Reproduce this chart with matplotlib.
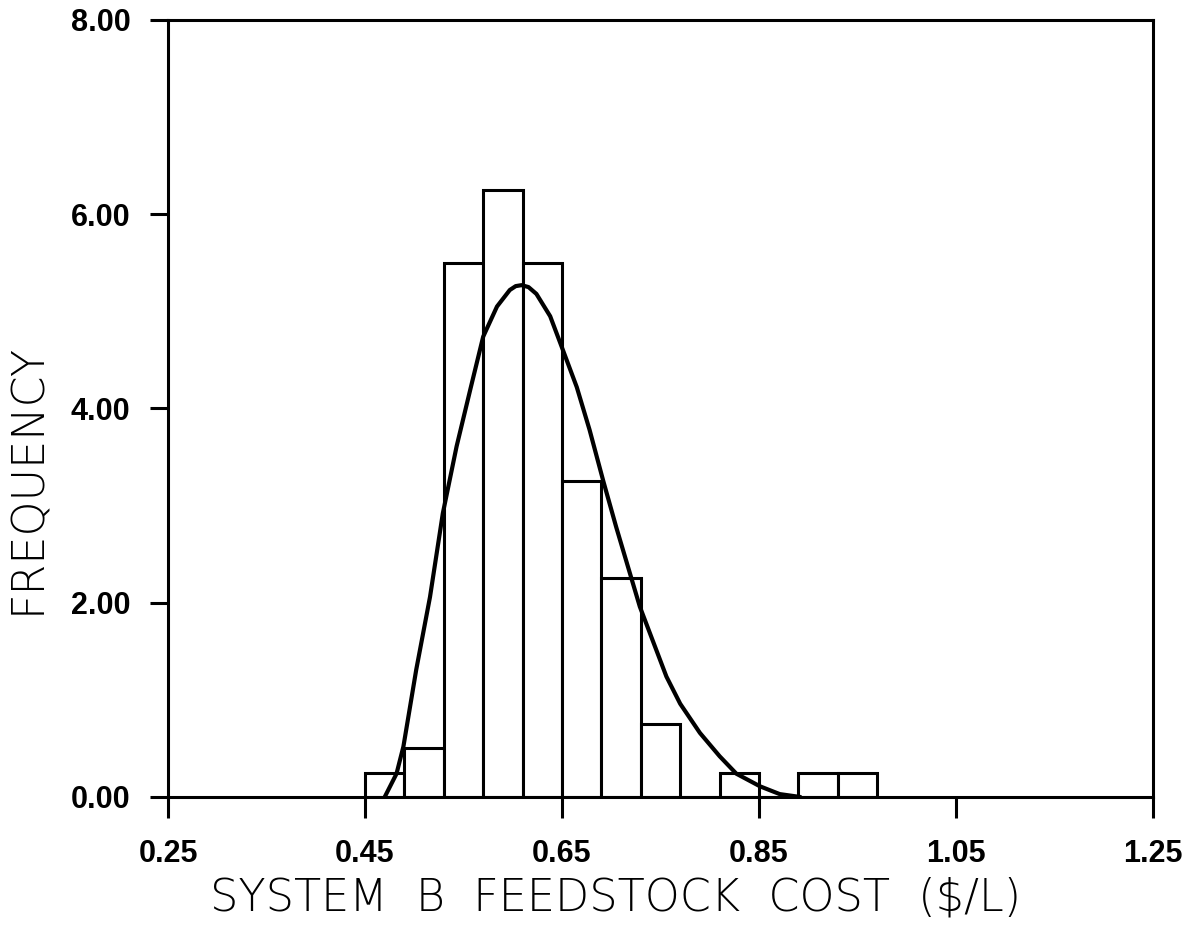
import matplotlib
matplotlib.use("Agg")
import matplotlib.pyplot as plt

# histogram bins (left edges, width 0.04) and heights
bin_left = [0.45, 0.49, 0.53, 0.57, 0.61, 0.65, 0.69, 0.73, 0.77, 0.81, 0.85, 0.89, 0.93]
bin_height = [0.25, 0.50, 5.50, 6.25, 5.50, 3.25, 2.25, 0.75, 0.0, 0.25, 0.0, 0.25, 0.25]
bin_width = 0.04

# fitted curve, points
curve_x = [0.470, 0.482, 0.489, 0.502, 0.516, 0.529, 0.543, 0.557, 0.570, 0.584,
           0.597, 0.603, 0.609, 0.616, 0.624, 0.638, 0.651, 0.665, 0.678, 0.692,
           0.705, 0.729, 0.756, 0.770, 0.790, 0.810, 0.827, 0.851, 0.871, 0.892]
curve_y = [0.00, 0.24, 0.52, 1.31, 2.06, 2.92, 3.61, 4.20, 4.74, 5.05,
           5.22, 5.26, 5.27, 5.25, 5.18, 4.95, 4.60, 4.22, 3.78, 3.25,
           2.78, 1.96, 1.24, 0.96, 0.66, 0.42, 0.24, 0.11, 0.03, 0.00]

x_ticks = [0.25, 0.45, 0.65, 0.85, 1.05, 1.25]
y_ticks = [0, 2, 4, 6, 8]

fig = plt.figure(figsize=(12.04, 9.27), dpi=100)
ax = fig.add_axes([168 / 1204, 1 - 797 / 927, (1153 - 168) / 1204, (797 - 20) / 927])

ax.bar(bin_left, bin_height, width=bin_width, align="edge", color="white",
       edgecolor="black", linewidth=2.2, zorder=2)
ax.plot(curve_x, curve_y, color="black", linewidth=3, zorder=3,
        solid_capstyle="round", solid_joinstyle="round")

ax.set_xlim(0.25, 1.25)
ax.set_ylim(0, 8)
ax.set_xticks(x_ticks)
ax.set_xticklabels(["%.2f" % v for v in x_ticks])
ax.set_yticks(y_ticks)
ax.set_yticklabels(["%.2f" % v for v in y_ticks])

for lab in ax.get_xticklabels() + ax.get_yticklabels():
    lab.set_fontfamily("Liberation Sans")
    lab.set_fontweight("bold")
    lab.set_fontsize(22)

ax.tick_params(axis="x", direction="out", length=15, width=2.2, pad=15)
ax.tick_params(axis="y", direction="out", length=13, width=2.2, pad=14)
for s in ax.spines.values():
    s.set_linewidth(2.2)

fig.text(616 / 1204, 1 - 898 / 927, "SYSTEM  B  FEEDSTOCK  COST  ($/L)",
         ha="center", va="center", fontsize=32, fontfamily="DejaVu Sans",
         fontweight="light")
fig.text(28 / 1204, 1 - 478 / 927, "FREQUENCY", ha="center", va="center",
         rotation=90, fontsize=32, fontfamily="DejaVu Sans", fontweight="light")

fig.savefig("out.png", dpi=100)
